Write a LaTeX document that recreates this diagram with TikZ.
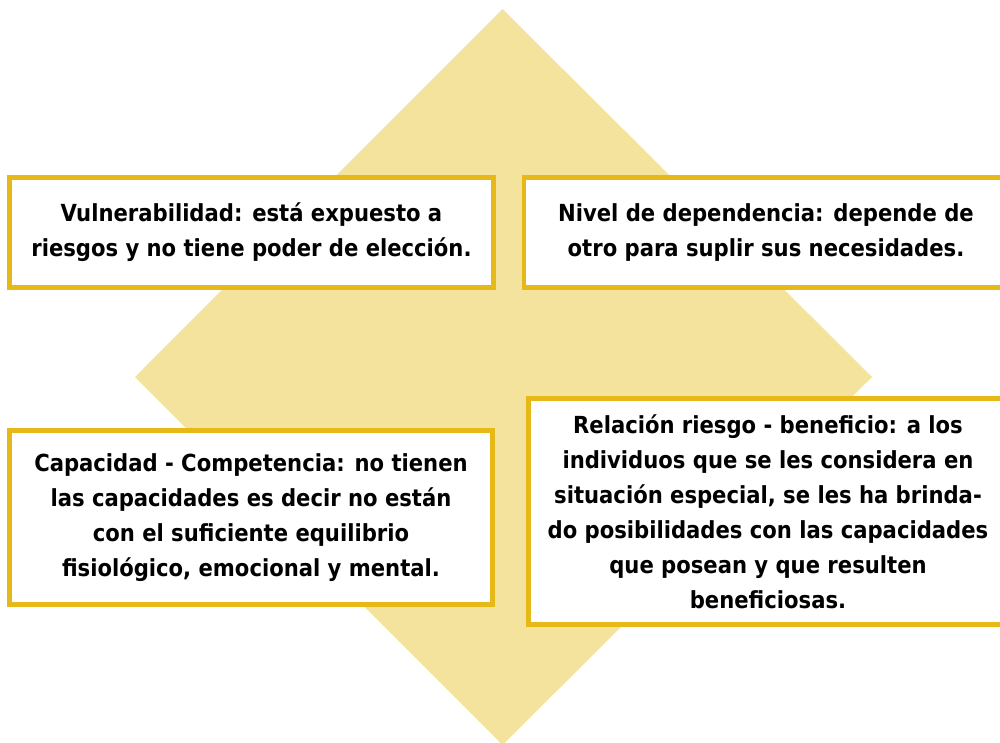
\documentclass[tikz,border=0pt]{standalone}
\usepackage{fontspec}
\setmainfont{DejaVu Sans Condensed}
\usetikzlibrary{positioning}
\definecolor{RomboGold}{RGB}{243,227,156}
\definecolor{BordeGold}{RGB}{230,185,25}
\tikzset{
  caja/.style={draw=BordeGold,fill=white,line width=4.5pt,inner sep=0pt,
    align=center,font=\bfseries\fontsize{23.5}{35}\selectfont},
}

\begin{document}
\begin{tikzpicture}[x=1pt,y=-1pt]
  \useasboundingbox (0,0) rectangle (1000,742);
  \clip (0,0) rectangle (1000,742);
  \coordinate (n) at (502.5,9);
  \coordinate (e) at (872,377);
  \coordinate (s) at (502.5,745);
  \coordinate (w) at (135,377);
  \fill[RomboGold] (n)--(e)--(s)--(w)--cycle;
  \node[caja,minimum width=484pt,minimum height=110pt] (vul) at (251.5,232.5)
    {Vulnerabilidad: está expuesto a\\riesgos y no tiene poder de elección.};
  \node[caja,minimum width=484pt,minimum height=110pt] (dep) at (766,232.5)
    {Nivel de dependencia: depende de\\otro para suplir sus necesidades.};
  \node[caja,minimum width=483pt,minimum height=174pt] (cap) at (251,517.5)
    {Capacidad - Competencia: no tienen\\las capacidades es decir no están\\con el suficiente equilibrio\\fisiológico, emocional y mental.};
  \node[caja,minimum width=479pt,minimum height=226pt] (rel) at (768,511.5)
    {Relación riesgo - beneficio: a los\\individuos que se les considera en\\situación especial, se les ha brinda-\\do posibilidades con las capacidades\\que posean y que resulten\\beneficiosas.};
\end{tikzpicture}
\end{document}
